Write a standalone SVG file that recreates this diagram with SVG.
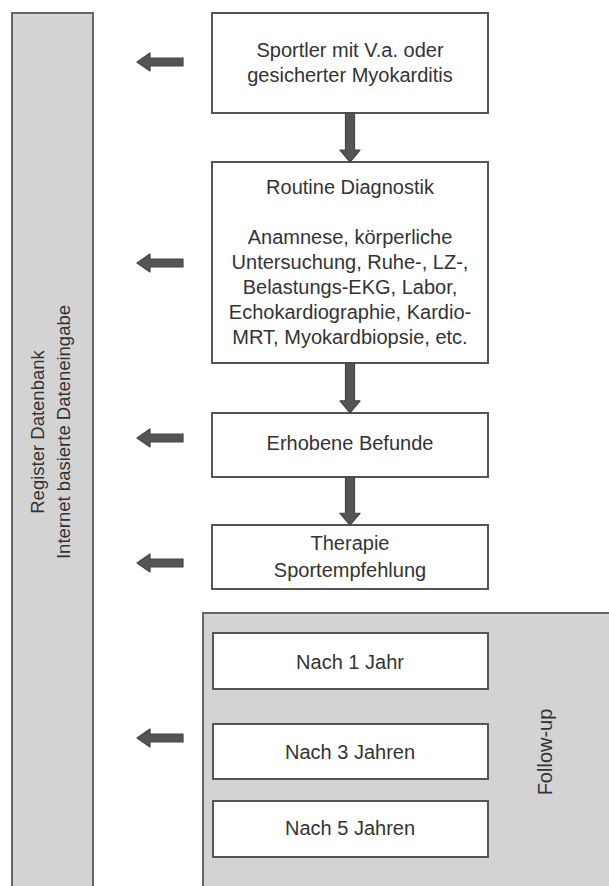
<svg xmlns="http://www.w3.org/2000/svg" width="609" height="886" viewBox="0 0 609 886">
<style>
.box{fill:#fff;stroke:#555;stroke-width:2}
.gray{fill:#d3d3d3;stroke:#666;stroke-width:2}
.t{font-family:"Liberation Sans",Arial,sans-serif;font-size:20px;fill:#333;text-anchor:middle}
.r{font-size:18.5px}
.arr{fill:#555;stroke:#444;stroke-width:1.2;stroke-linejoin:round}
</style>
<defs>
<path id="la" d="M0 0 L13 -9 L13 -4 L46 -4 L46 4 L13 4 L13 9 Z"/>
<path id="da" d="M-4.5 0 L4.5 0 L4.5 37 L10 37 L0 49 L-10 37 L-4.5 37 Z"/>
</defs>
<rect width="609" height="886" fill="#fff"/>
<g id="register">
<rect class="gray" x="12" y="13" width="81" height="890"/>
<text class="t r" transform="translate(44,432) rotate(-90)">Register Datenbank</text>
<text class="t r" transform="translate(70,432) rotate(-90)">Internet basierte Dateneingabe</text>
</g>
<g id="followup">
<rect class="gray" x="203" y="613" width="420" height="290"/>
<text class="t" transform="translate(552,752) rotate(-90)">Follow-up</text>
</g>
<g id="n1">
<rect class="box" x="212" y="13" width="276" height="100"/>
<text class="t" x="350" y="57">Sportler mit V.a. oder</text>
<text class="t" x="350" y="82">gesicherter Myokarditis</text>
</g>
<g id="n2">
<rect class="box" x="212" y="162" width="276" height="201"/>
<text class="t" x="350" y="194">Routine Diagnostik</text>
<text class="t" x="350" y="244">Anamnese, körperliche</text>
<text class="t" x="350" y="269">Untersuchung, Ruhe-, LZ-,</text>
<text class="t" x="350" y="294">Belastungs-EKG, Labor,</text>
<text class="t" x="350" y="319">Echokardiographie, Kardio-</text>
<text class="t" x="350" y="344">MRT, Myokardbiopsie, etc.</text>
</g>
<g id="n3">
<rect class="box" x="212" y="413" width="276" height="64"/>
<text class="t" x="350" y="450">Erhobene Befunde</text>
</g>
<g id="n4">
<rect class="box" x="212" y="525" width="276" height="64"/>
<text class="t" x="350" y="550">Therapie</text>
<text class="t" x="350" y="577">Sportempfehlung</text>
</g>
<g id="f1">
<rect class="box" x="213" y="633" width="275" height="56"/>
<text class="t" x="350" y="669">Nach 1 Jahr</text>
</g>
<g id="f3">
<rect class="box" x="213" y="724" width="275" height="55"/>
<text class="t" x="350" y="759">Nach 3 Jahren</text>
</g>
<g id="f5">
<rect class="box" x="213" y="801" width="275" height="56"/>
<text class="t" x="350" y="835">Nach 5 Jahren</text>
</g>
<g id="connectors">
<use href="#da" class="arr" x="350" y="113"/>
<use href="#da" class="arr" x="350" y="363" transform="translate(350,363) scale(1,1.02) translate(-350,-363)"/>
<use href="#da" class="arr" x="350" y="477" transform="translate(350,477) scale(1,0.98) translate(-350,-477)"/>
<use href="#la" class="arr" x="137" y="62"/>
<use href="#la" class="arr" x="137" y="263"/>
<use href="#la" class="arr" x="137" y="438"/>
<use href="#la" class="arr" x="137" y="563"/>
<use href="#la" class="arr" x="137" y="738"/>
</g>
</svg>
